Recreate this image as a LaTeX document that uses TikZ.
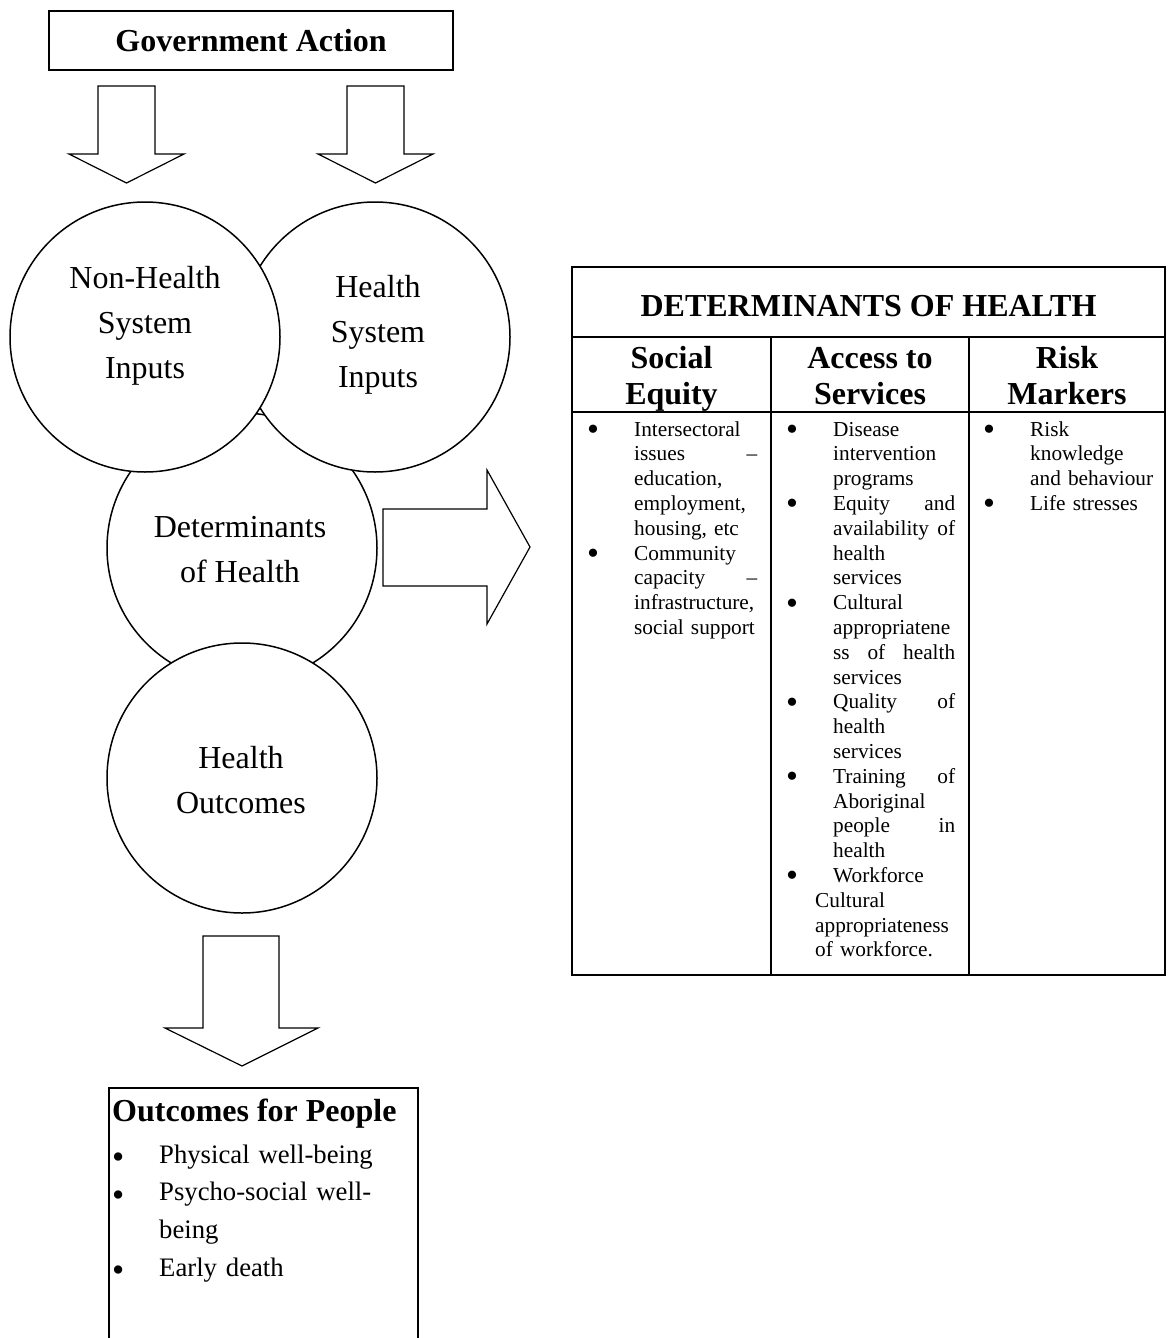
\documentclass[tikz,border=0pt]{standalone}
\usepackage{fontspec}
\usepackage{graphicx}
\setmainfont{Liberation Serif}

\newcommand{\bulsc}{1.6}
\newcommand{\bul}{\strut\makebox[47pt][l]{\smash{\raisebox{-0.2em}{\scalebox{\bulsc}{\textbullet}}}}}
\newcommand{\ind}{\hspace*{47pt}}

\begin{document}
\begin{tikzpicture}[x=1pt, y=-1pt,
    govbox/.style={draw, line width=1.2pt, minimum width=404pt, minimum height=59pt,
                   font=\fontsize{32}{36}\selectfont\bfseries},
    circ/.style={draw, circle, fill=white, line width=1.5pt,
                 minimum size=270pt, inner sep=0pt},
    ctext/.style={anchor=north, align=center, inner sep=0pt,
                  font=\fontsize{32}{45}\selectfont},
    blockarr/.style={draw, fill=white, line width=1.2pt, line join=miter},
    hdr/.style={align=center, inner sep=0pt, font=\fontsize{32}{36}\selectfont\bfseries},
    cell/.style={anchor=north west, align=left, inner sep=0pt,
                 font=\fontsize{21.3}{24.8}\selectfont},
    tabline/.style={line width=2pt},
    oplist/.style={anchor=north west, align=left, inner sep=0pt, text width=300pt,
                   font=\fontsize{26.7}{37.7}\selectfont\renewcommand{\bulsc}{1.3}}
  ]
  \useasboundingbox (0,0) rectangle (1167,1338);
  \clip (0,0) rectangle (1167,1338);

  % government action and its two arrows
  \node[govbox] (gov) at (251,40.5) {Government Action};
  \foreach \cx in {126.5,375.5}
    \draw[blockarr] (\cx-28.5,86) -- (\cx+28.5,86) -- (\cx+28.5,154) -- (\cx+57.5,154)
      -- (\cx,183) -- (\cx-57.5,154) -- (\cx-28.5,154) -- cycle;

  % circles, drawn bottom layer first
  \node[circ] (det) at (242,548) {};
  \node[circ] (hsi) at (375,337) {};
  \node[circ] (nhsi) at (145,337) {};
  \node[circ] (ho) at (242,778) {};

  \node[ctext] (nhsitxt) at (145,256.5) {\strut Non-Health\\System\\Inputs};
  \node[ctext] (hsitxt) at (378,265.5) {\strut Health\\System\\Inputs};
  \node[ctext] (dettxt) at (240,505.5) {\strut Determinants\\of Health};
  \node[ctext] (hotxt) at (241,736.5) {\strut Health\\Outcomes};

  % arrow to the table
  \draw[blockarr] (383,509) -- (487,509) -- (487,470) -- (530,547) -- (487,624)
    -- (487,586) -- (383,586) -- cycle;

  % determinants table
  \draw[tabline] (572,267) rectangle (1165,975);
  \draw[tabline] (572,337) -- (1165,337);
  \draw[tabline] (572,412) -- (1165,412);
  \draw[tabline] (771,337) -- (771,975);
  \draw[tabline] (969,337) -- (969,975);

  \node[hdr, anchor=base] (dethdr) at (868.5,316) {DETERMINANTS OF HEALTH};
  \node[hdr, anchor=north] (sehdr) at (671.5,342.8) {\strut Social\\Equity};
  \node[hdr, anchor=north] (ashdr) at (870,342.8) {\strut Access to\\Services};
  \node[hdr, anchor=north] (rmhdr) at (1067,342.8) {\strut Risk\\Markers};

  \node[cell, text width=170pt] (secell) at (587,418.6) {%
    \bul Intersectoral\\
    \ind issues\hfill --\\
    \ind education,\\
    \ind employment,\\
    \ind housing, etc\\
    \bul Community\\
    \ind capacity\hfill --\\
    \ind infrastructure,\\
    \ind social support};
  \node[cell, text width=169pt] (ascell) at (786,418.6) {%
    \bul Disease\\
    \ind intervention\\
    \ind programs\\
    \bul Equity\hfill and\\
    \ind availability\hfill of\\
    \ind health\\
    \ind services\\
    \bul Cultural\\
    \ind appropriatene\\
    \ind ss\hfill of\hfill health\\
    \ind services\\
    \bul Quality\hfill of\\
    \ind health\\
    \ind services\\
    \bul Training\hfill of\\
    \ind Aboriginal\\
    \ind people\hfill in\\
    \ind health\\
    \bul Workforce\\
    \hspace*{29pt}Cultural\\
    \hspace*{29pt}appropriateness\\
    \hspace*{29pt}of workforce.};
  \node[cell, text width=177pt] (rmcell) at (983,418.6) {%
    \bul Risk\\
    \ind knowledge\\
    \ind and behaviour\\
    \bul Life stresses};

  % outcomes for people
  \draw[blockarr] (203,936) -- (279,936) -- (279,1028) -- (318,1028) -- (242,1066)
    -- (165,1028) -- (203,1028) -- cycle;
  \draw[line width=1.2pt] (109,1345) -- (109,1088) -- (418,1088) -- (418,1345);
  \node[anchor=base west, inner sep=0pt, font=\fontsize{32}{36}\selectfont\bfseries]
    (optitle) at (112,1121) {Outcomes for People};
  \node[oplist] (opitems) at (112,1136.6) {%
    \bul Physical well-being\\
    \bul Psycho-social well-\\
    \ind being\\
    \bul Early death};
\end{tikzpicture}
\end{document}
